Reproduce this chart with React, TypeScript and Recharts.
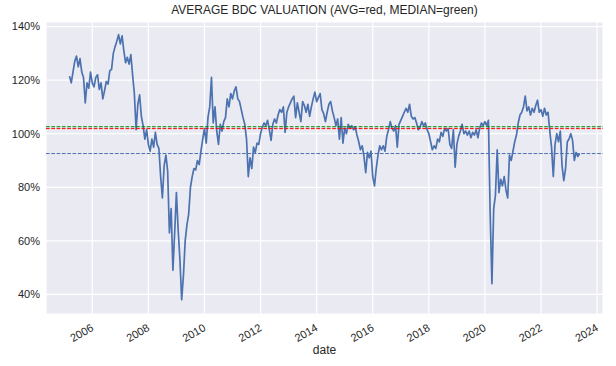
import React from 'react'
import { CartesianGrid, Line, LineChart, ReferenceLine, XAxis, YAxis } from 'recharts'

// valuation (% of book), every 1/16 year
const v2005 = [121.5, 119, 123, 127, 129, 125, 128, 123, 121, 111.5, 119, 117, 123]
const v2006 = [119, 117.5, 121, 122, 116.5, 119, 113, 116, 119.5, 118.5, 123.5, 124, 130, 132.5, 134.5, 137]
const v2007 = [133.5, 136.5, 131, 126.5, 128.5, 126, 129.5, 122, 115, 101.5, 111, 114.5, 106.5, 103, 98, 101.5]
const v2008 = [96, 93.5, 98, 95, 100.5, 96, 94.5, 84, 76, 88, 92, 86, 63, 72, 49, 63]
const v2009 = [78, 64, 53, 38, 47, 60, 66, 70, 80, 84, 87, 86.5, 90, 88.5, 93.5, 98]
const v2010 = [102, 96.5, 106, 110, 121, 104, 110, 101, 96, 103.5, 101, 104.5, 106, 113, 110, 115]
const v2011 = [113, 116, 117.5, 113, 112, 109, 106, 103.5, 98, 84, 91, 87, 95, 93, 96.5, 96]
const v2012 = [100, 102.5, 104, 103, 105, 101.5, 97.5, 103.5, 105.5, 104, 107, 109, 108, 110, 100.5, 108]
const v2013 = [110, 111.5, 113, 114, 106, 111.5, 108, 104.5, 112, 110.5, 108, 111, 106.5, 110, 113, 115.5]
const v2014 = [112, 113.5, 115, 109, 107.5, 104.5, 108, 111, 112, 108.5, 106, 103, 105.5, 98, 106, 96.5]
const v2015 = [102, 100, 103.5, 102, 103, 101.5, 102.5, 99.5, 97, 94, 95.5, 91.5, 85.5, 93, 91, 93.5]
const v2016 = [84, 80.5, 87, 92, 95.5, 94, 95.5, 93.5, 99, 101.5, 104.5, 102, 101, 103, 95, 103.5]
const v2017 = [105, 106.5, 108, 109.5, 108, 111, 106.5, 105.5, 106, 104, 101.5, 102.5, 104.5, 103, 104, 101.5]
const v2018 = [100, 97, 94, 95.5, 94.5, 98, 97, 100.5, 99, 102, 101, 102, 96, 94.5, 101.5, 87.5]
const v2019 = [96, 99, 101, 103.5, 100, 101, 99.5, 101, 98.5, 100.5, 99.5, 101.5, 98.5, 102, 104, 103]
const v2020 = [104.5, 103, 105, 70, 44, 72, 77, 94, 78, 83, 80.5, 84, 79, 76, 92, 90]
const v2021 = [93.5, 97, 99.5, 104, 107, 108, 110, 114, 108.5, 110, 107, 109.5, 108, 110.5, 112.5, 108]
const v2022 = [109, 106.5, 109.5, 107, 108, 101, 95, 84, 96, 100, 97, 101, 88, 82.5, 87, 97]
const v2023 = [98, 100, 97.5, 90, 93, 91.5, 92.6]

const yearBlocks: [number, number, number[]][] = [
  [2005, 3, v2005], [2006, 0, v2006], [2007, 0, v2007], [2008, 0, v2008],
  [2009, 0, v2009], [2010, 0, v2010], [2011, 0, v2011], [2012, 0, v2012],
  [2013, 0, v2013], [2014, 0, v2014], [2015, 0, v2015], [2016, 0, v2016],
  [2017, 0, v2017], [2018, 0, v2018], [2019, 0, v2019], [2020, 0, v2020],
  [2021, 0, v2021], [2022, 0, v2022], [2023, 0, v2023],
]

const medianLevel = 102.6
const avgLevel = 101.9
const latestLevel = 92.6

const yearTicks = [2006, 2008, 2010, 2012, 2014, 2016, 2018, 2020, 2022, 2024]
const pctTicks = [40, 60, 80, 100, 120, 140]

const data = yearBlocks.flatMap(([year, offset, vals]) =>
  vals.map((v, i) => ({ t: year + (offset + i) / 16, v }))
)

function YearTick({ x, y, payload }: any) {
  const ax = x + 2
  const ay = y + 14
  return (
    <text x={ax} y={ay} transform={`rotate(-30, ${ax}, ${ay})`} textAnchor="end" fontSize={11} fill="#262626">
      {payload.value}
    </text>
  )
}

export default function App() {
  return (
    <div style={{ position: 'absolute', left: 0, top: 0, width: 616, height: 366, background: '#fff', fontFamily: '"Liberation Sans", Arial, sans-serif' }}>
      <div style={{ position: 'absolute', left: 46, width: 557, top: 3, textAlign: 'center', fontSize: 12, color: '#262626' }}>
        AVERAGE BDC VALUATION (AVG=red, MEDIAN=green)
      </div>
      <LineChart width={616} height={366} data={data} margin={{ top: 22, right: 13, left: 0, bottom: 0 }}>
        <CartesianGrid fill="#EAEAF2" stroke="#ffffff" strokeWidth={1.2} />
        <XAxis
          dataKey="t"
          type="number"
          domain={[2004.35, 2024.21]}
          ticks={yearTicks}
          allowDataOverflow
          axisLine={false}
          tickLine={false}
          tickSize={0}
          height={52}
          tick={<YearTick />}
          interval={0}
        />
        <YAxis
          type="number"
          domain={[32.7, 141.7]}
          ticks={pctTicks}
          allowDataOverflow
          axisLine={false}
          tickLine={false}
          tickSize={0}
          tickMargin={6}
          width={46}
          tick={{ fontSize: 11, fill: '#262626' }}
          tickFormatter={(v) => `${v}%`}
          interval={0}
        />
        <Line type="linear" dataKey="v" stroke="#4C72B0" strokeWidth={1.7} strokeLinejoin="round" dot={false} isAnimationActive={false} />
        <ReferenceLine y={medianLevel} stroke="#008000" strokeDasharray="3.7 1.6" strokeWidth={1} />
        <ReferenceLine y={avgLevel} stroke="#FF0000" strokeDasharray="3.7 1.6" strokeWidth={1} />
        <ReferenceLine y={latestLevel} stroke="#4C72B0" strokeDasharray="3.7 1.6" strokeWidth={1} />
      </LineChart>
      <div style={{ position: 'absolute', left: 46, width: 557, top: 343, textAlign: 'center', fontSize: 12, color: '#262626' }}>
        date
      </div>
    </div>
  )
}
